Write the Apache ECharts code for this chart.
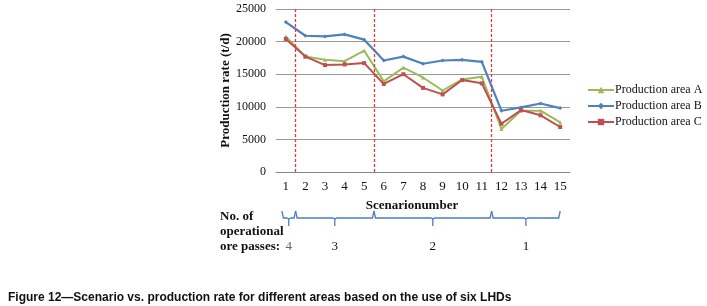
<!DOCTYPE html>
<html>
<head>
<meta charset="utf-8">
<script src="https://cdn.jsdelivr.net/npm/echarts@6/dist/echarts.min.js"></script>
<style>
  html, body { margin: 0; padding: 0; background: #fff; }
  #chart { width: 707px; height: 306px; }
</style>
</head>
<body>
<div id="chart"></div>
<script>
// scenario numbers on the x axis
const scenarios = ['1','2','3','4','5','6','7','8','9','10','11','12','13','14','15'];

// production rate (t/d)
const areaA = [20800, 17700, 17200, 17000, 18600, 13900, 16000, 14500, 12500, 14200, 14600, 6600, 9400, 9400, 7600];
const areaB = [23000, 20900, 20800, 21100, 20300, 17100, 17700, 16600, 17100, 17200, 16900, 9400, 9900, 10500, 9800];
const areaC = [20400, 17700, 16400, 16500, 16700, 13500, 15000, 12900, 11900, 14100, 13600, 7400, 9500, 8700, 6900];

// changes in the number of operational ore passes (between scenarios)
const passBreaks = [1.5, 5.5, 11.5];
const passLabels = ['4', '3', '2', '1'];
const passRanges = [[0.8, 1.5], [1.5, 5.5], [5.5, 11.5], [11.5, 15]];

const serif = '"Liberation Serif", "DejaVu Serif", serif';

const myChart = echarts.init(document.getElementById('chart'));

const option = {
    animation: false,
    grid: { left: 276, right: 137, top: 9, bottom: 134 },
    legend: {
        orient: 'vertical',
        left: 582,
        top: 79,
        itemWidth: 26,
        itemHeight: 8,
        itemGap: 4,
        textStyle: { fontFamily: serif, fontSize: 12, color: '#111', padding: [0, 0, 0, -4] },
        data: ['Production area A', 'Production area B', 'Production area C']
    },
    xAxis: [{
        type: 'category',
        data: scenarios,
        axisLine: { lineStyle: { color: '#888' } },
        axisTick: { length: 4, lineStyle: { color: '#888' } },
        axisLabel: { fontFamily: serif, fontSize: 13, color: '#111', margin: 8 }
    }, {
        type: 'value',
        min: 0.5,
        max: 15.5,
        show: false
    }],
    yAxis: {
        type: 'value',
        min: 0,
        max: 25000,
        interval: 5000,
        name: 'Production rate (t/d)',
        nameLocation: 'middle',
        nameGap: 42,
        nameTextStyle: { fontFamily: serif, fontSize: 13, fontWeight: 'bold', color: '#111' },
        axisLine: { show: false },
        axisTick: { show: false },
        axisLabel: { fontFamily: serif, fontSize: 12, color: '#111', margin: 10, formatter: v => String(v) },
        splitLine: { lineStyle: { color: '#999', width: 1 } }
    },
    series: [{
        name: 'Production area A',
        type: 'line',
        data: areaA,
        symbol: 'triangle',
        symbolSize: 4,
        lineStyle: { width: 2, color: '#9bbb59' },
        itemStyle: { color: '#9bbb59' },
        z: 3
    }, {
        name: 'Production area B',
        type: 'line',
        data: areaB,
        symbol: 'diamond',
        symbolSize: 4,
        lineStyle: { width: 2.2, color: '#4f81bd' },
        itemStyle: { color: '#4f81bd' },
        z: 4
    }, {
        name: 'Production area C',
        type: 'line',
        data: areaC,
        symbol: 'rect',
        symbolSize: 4,
        lineStyle: { width: 2, color: '#c0504d' },
        itemStyle: { color: '#c0504d' },
        z: 5
    }, {
        type: 'line',
        xAxisIndex: 1,
        data: [],
        silent: true,
        markLine: {
            symbol: 'none',
            label: { show: false },
            lineStyle: { type: [3, 2], color: '#e03a3a', width: 1.3 },
            data: passBreaks.map(v => ({ xAxis: v }))
        },
        z: 6
    }]
};

myChart.setOption(option);

// braces under the axis + text, placed through the hidden value axis
function drawAnnotations() {
    const px = v => myChart.convertToPixel({ xAxisIndex: 1 }, v);
    const braceY = 218;
    const elements = [];
    passRanges.forEach((r, i) => {
        const x0 = px(r[0]), x1 = px(r[1]), xm = (x0 + x1) / 2;
        elements.push({
            type: 'polyline',
            shape: { points: [[x0, braceY - 7], [x0 + 1.5, braceY], [xm - 2, braceY], [xm, braceY + 1], [xm, braceY + 8]] },
            style: { stroke: '#4a7ebb', lineWidth: 1.3, fill: null }
        });
        elements.push({
            type: 'polyline',
            shape: { points: [[xm, braceY + 1], [xm + 2, braceY], [x1 - 1.5, braceY], [x1, braceY - 7]] },
            style: { stroke: '#4a7ebb', lineWidth: 1.3, fill: null }
        });
        elements.push({
            type: 'text',
            x: xm, y: 247,
            style: { text: passLabels[i], font: '13px ' + serif, fill: i === 0 ? '#666' : '#111', align: 'center', verticalAlign: 'middle' }
        });
    });
    elements.push({
        type: 'text', x: 412, y: 206,
        style: { text: 'Scenarionumber', font: 'bold 13px ' + serif, fill: '#111', align: 'center', verticalAlign: 'middle' }
    });
    ['No. of', 'operational', 'ore passes:'].forEach((t, i) => {
        elements.push({
            type: 'text', x: 220, y: 217 + i * 15,
            style: { text: t, font: 'bold 13px ' + serif, fill: '#111', align: 'left', verticalAlign: 'middle' }
        });
    });
    elements.push({
        type: 'text', x: 8, y: 298,
        style: {
            text: 'Figure 12\u2014Scenario vs. production rate for different areas based on the use of six LHDs',
            font: 'bold 12px "Liberation Sans", Arial, sans-serif', fill: '#111', align: 'left', verticalAlign: 'middle'
        }
    });
    myChart.setOption({ graphic: { elements: elements } });
}

drawAnnotations();
</script>
</body>
</html>
